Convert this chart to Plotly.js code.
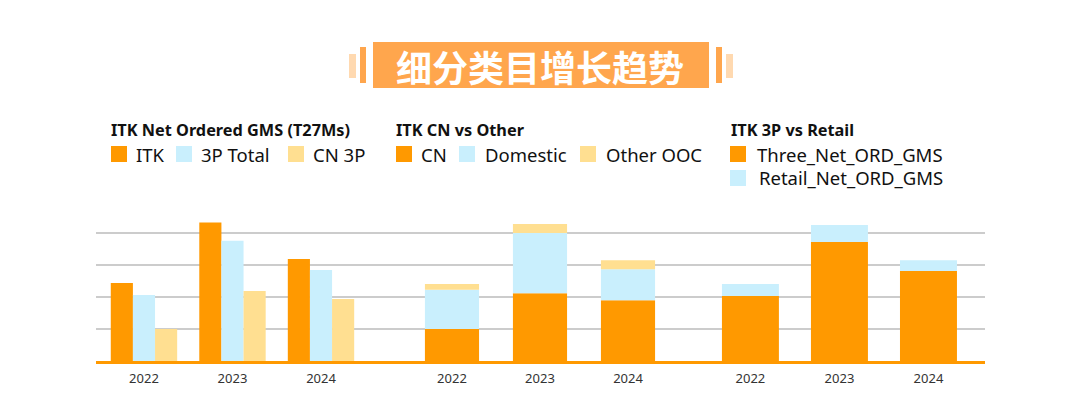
<!DOCTYPE html>
<html>
<head>
<meta charset="utf-8">
<script src="https://cdn.plot.ly/plotly-3.0.1.min.js"></script>
<style>
  html, body { margin: 0; padding: 0; background: #fff; }
  #graph { width: 1080px; height: 407px; }
</style>
</head>
<body>
<div id="graph"></div>
<script>
// data (same arbitrary unit on all three panels)
var years = ['2022', '2023', '2024'];

var gmsNames = ['ITK', '3P Total', 'CN 3P'];
var itk      = [2.44, 4.33, 3.19];
var total3p  = [2.06, 3.76, 2.84];
var cn3p     = [1.00, 2.19, 1.94];

var cnNames  = ['CN', 'Domestic', 'Other OOC'];
var cn       = [1.00, 2.12, 1.90];
var domestic = [1.23, 1.88, 0.97];
var otherOoc = [0.18, 0.28, 0.28];

var retailNames = ['Three_Net_ORD_GMS', 'Retail_Net_ORD_GMS'];
var three    = [2.03, 3.72, 2.81];
var retail   = [0.38, 0.53, 0.34];

var legendTitles = ['ITK Net Ordered GMS (T27Ms)', 'ITK CN vs Other', 'ITK 3P vs Retail'];
var bannerText = '细分类目增长趋势';

var ORANGE = '#FF9900', BLUE = '#C9EFFD', YELLOW = '#FFDF91';
var colors = [ORANGE, BLUE, YELLOW];
var FONT = 'Noto Sans, DejaVu Sans, sans-serif';

// pixel -> paper helpers (margins are zero)
var W = 1080, H = 407;
function px(x) { return x / W; }
function py(y) { return 1 - y / H; }

function sum(a, b) { return a.map(function (v, i) { return v + b[i]; }); }

var data = [];

// panel 1: grouped bars
[itk, total3p, cn3p].forEach(function (vals, k) {
  data.push({
    type: 'bar', x: years, y: vals, name: gmsNames[k],
    xaxis: 'x', yaxis: 'y',
    width: 0.25, offset: -0.375 + k * 0.25,
    marker: {color: colors[k]}
  });
});

// panel 2: stacked
var bases2 = [null, cn, sum(cn, domestic)];
[cn, domestic, otherOoc].forEach(function (vals, k) {
  var t = {
    type: 'bar', x: years, y: vals, name: cnNames[k],
    xaxis: 'x2', yaxis: 'y',
    width: 0.615, offset: -0.3075,
    marker: {color: colors[k]}
  };
  if (bases2[k]) t.base = bases2[k];
  data.push(t);
});

// panel 3: stacked
[three, retail].forEach(function (vals, k) {
  var t = {
    type: 'bar', x: years, y: vals, name: retailNames[k],
    xaxis: 'x3', yaxis: 'y',
    width: 0.64, offset: -0.32,
    marker: {color: colors[k]}
  };
  if (k == 1) t.base = three;
  data.push(t);
});

function xAxis(d0, d1, r0, r1) {
  return {
    domain: [px(d0), px(d1)], range: [r0, r1], anchor: 'y',
    type: 'category', showgrid: false, zeroline: false,
    showline: true, linecolor: ORANGE, linewidth: 3,
    ticks: '', ticklabelstandoff: 3,
    tickfont: {family: FONT, size: 13, color: '#333'},
    fixedrange: true
  };
}

var shapes = [];
var annotations = [];

// banner
shapes.push({type: 'rect', xref: 'paper', yref: 'paper', x0: px(373), x1: px(709), y0: py(88), y1: py(42),
  fillcolor: '#FFA64D', line: {width: 0}});
[[349, 356, 54, 78, '#FFD9B0'], [360, 366, 47, 83, '#FFA64D'],
 [716, 722, 47, 83, '#FFA64D'], [726, 733, 54, 78, '#FFD9B0']].forEach(function (s) {
  shapes.push({type: 'rect', xref: 'paper', yref: 'paper', x0: px(s[0]), x1: px(s[1]), y0: py(s[3]), y1: py(s[2]),
    fillcolor: s[4], line: {width: 0}});
});
annotations.push({xref: 'paper', yref: 'paper', x: px(540), y: py(66), text: '<b>' + bannerText + '</b>',
  showarrow: false, xanchor: 'center', yanchor: 'middle',
  font: {family: 'Noto Sans CJK SC', size: 36, color: '#fff'}});

// custom legends
function legendTitle(x, text) {
  annotations.push({xref: 'paper', yref: 'paper', x: px(x), y: py(130), text: '<b>' + text + '</b>',
    showarrow: false, xanchor: 'left', yanchor: 'middle', font: {family: FONT, size: 16.3, color: '#111'}});
}
function legendItem(sx, tx, cy, color, text) {
  shapes.push({type: 'rect', xref: 'paper', yref: 'paper', x0: px(sx), x1: px(sx + 16), y0: py(cy + 8), y1: py(cy - 8),
    fillcolor: color, line: {width: 0}});
  annotations.push({xref: 'paper', yref: 'paper', x: px(tx - 2), y: py(cy), text: text,
    showarrow: false, xanchor: 'left', yanchor: 'middle', font: {family: FONT, size: 18.5, color: '#111'}});
}
legendTitle(109, legendTitles[0]);
legendItem(111, 136, 154, colors[0], gmsNames[0]);
legendItem(176, 201, 154, colors[1], gmsNames[1]);
legendItem(288, 313, 154, colors[2], gmsNames[2]);

legendTitle(394, legendTitles[1]);
legendItem(396, 421, 154, colors[0], cnNames[0]);
legendItem(459, 485, 154, colors[1], cnNames[1]);
legendItem(580, 606, 154, colors[2], cnNames[2]);

legendTitle(729, legendTitles[2]);
legendItem(730, 757, 154, colors[0], retailNames[0]);
legendItem(730, 759, 178, colors[1], retailNames[1]);

var layout = {
  width: W, height: H,
  margin: {l: 0, r: 0, t: 0, b: 0},
  paper_bgcolor: '#fff', plot_bgcolor: '#fff',
  barmode: 'overlay', showlegend: false,
  xaxis:  xAxis(96, 386.5, -0.542, 2.74),
  xaxis2: xAxis(386.5, 689, -0.744, 2.693),
  xaxis3: xAxis(689, 985, -0.69, 2.635),
  yaxis: {
    domain: [py(361), py(201)], range: [0, 5],
    tickvals: [1, 2, 3, 4], showticklabels: false,
    showgrid: true, gridcolor: '#CCCCCC', gridwidth: 2,
    zeroline: false, showline: false, fixedrange: true
  },
  shapes: shapes,
  annotations: annotations
};

Plotly.newPlot('graph', data, layout, {displayModeBar: false, staticPlot: true});
</script>
</body>
</html>
